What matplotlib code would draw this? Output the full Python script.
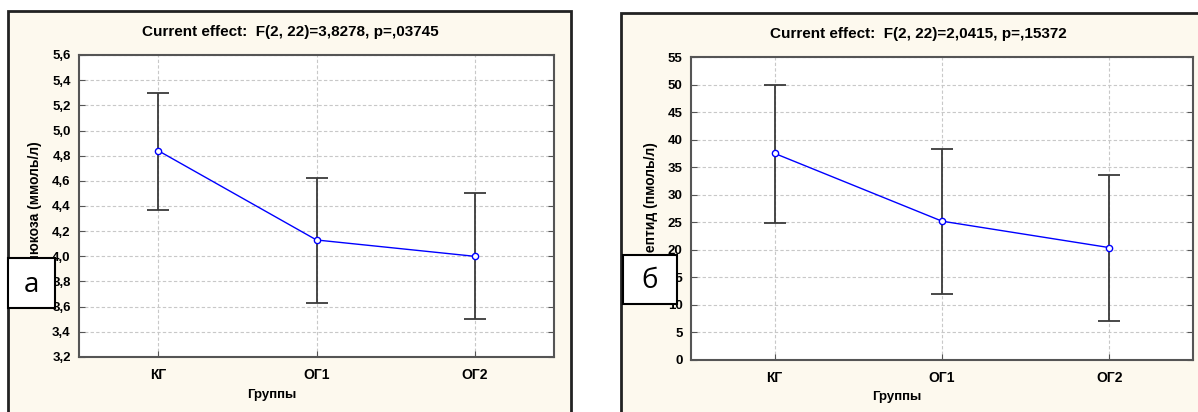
import matplotlib
matplotlib.use("Agg")
import matplotlib.pyplot as plt
from matplotlib.patches import Rectangle

plt.rcParams['font.family'] = ['Liberation Sans', 'DejaVu Sans']

groups = ["КГ", "ОГ1", "ОГ2"]

glu_mean = [4.84, 4.13, 4.00]
glu_upper = [5.30, 4.62, 4.50]
glu_lower = [4.37, 3.63, 3.50]

cpep_mean = [37.5, 25.2, 20.4]
cpep_upper = [49.9, 38.3, 33.5]
cpep_lower = [24.9, 11.9, 7.1]

titles = ["Current effect:  F(2, 22)=3,8278, p=,03745",
          "Current effect:  F(2, 22)=2,0415, p=,15372"]
ylabels = ["Глюкоза (ммоль/л)", "С-пептид (пмоль/л)"]
panel_letters = ["а", "б"]
xlabel = "Группы"

W, H = 1198, 412
fig = plt.figure(figsize=(W / 100, H / 100), dpi=100)
fig.patch.set_facecolor("white")

cream = "#fdf9ee"

def px_axes(x0, y0, x1, y1):
    return fig.add_axes([x0 / W, (H - y1) / H, (x1 - x0) / W, (y1 - y0) / H])

def frame(x0, y0, x1, y1):
    r = Rectangle((x0 / W, (H - y1) / H), (x1 - x0) / W, (y1 - y0) / H,
                  transform=fig.transFigure, facecolor=cream, edgecolor="#222222",
                  linewidth=2.0, zorder=-5)
    fig.patches.append(r)

frame(8, 11, 571, 420)
frame(621, 13, 1215, 420)

panels = [
    dict(pos=(79, 55, 554, 357), mean=glu_mean, up=glu_upper, lo=glu_lower,
         ylim=(3.2, 5.6), ticks=[3.2 + 0.2 * i for i in range(13)], fmt="f",
         title_xy=(290, 32), xlab_xy=(272, 395), box=(8, 258, 55, 308)),
    dict(pos=(691, 57, 1193, 360), mean=cpep_mean, up=cpep_upper, lo=cpep_lower,
         ylim=(0, 55), ticks=list(range(0, 56, 5)), fmt="d",
         title_xy=(918, 34), xlab_xy=(897, 397), box=(623, 255, 677, 304)),
]

for i, p in enumerate(panels):
    ax = px_axes(*p["pos"])
    ax.set_facecolor("white")
    x = list(range(len(groups)))
    m = p["mean"]
    yerr = [[m[k] - p["lo"][k] for k in x], [p["up"][k] - m[k] for k in x]]
    ax.errorbar(x, m, yerr=yerr, fmt="none", ecolor="#3a3a3a", elinewidth=1.3,
                capsize=8, capthick=1.3, zorder=3)
    ax.plot(x, m, color="#0000ff", linewidth=1.0, marker="o", markersize=4.5,
            markerfacecolor="white", markeredgecolor="#0000ff", markeredgewidth=1.0,
            zorder=4)
    ax.set_xlim(-0.5, 2.5)
    ax.set_ylim(*p["ylim"])
    ax.set_xticks(x)
    ax.set_xticklabels(groups, fontsize=10, fontweight="bold")
    ax.set_yticks(p["ticks"])
    if p["fmt"] == "d":
        ax.set_yticklabels([str(int(t)) for t in p["ticks"]], fontsize=9.5, fontweight="bold")
    else:
        ax.set_yticklabels([f"{t:.1f}".replace(".", ",") for t in p["ticks"]],
                           fontsize=9.5, fontweight="bold")
    ax.tick_params(axis="y", direction="in", left=True, right=True, length=4,
                   width=0.8, color="#555555", pad=6)
    ax.tick_params(axis="x", direction="in", bottom=True, top=False, length=4,
                   width=0.8, color="#555555", pad=8)
    ax.grid(True, linestyle=(0, (3, 2)), color="#c8c8c8", linewidth=0.8)
    ax.set_axisbelow(True)
    for s in ax.spines.values():
        s.set_color("#555555")
        s.set_linewidth(1.5)
    ax.set_ylabel(ylabels[i], fontsize=10, fontweight="bold", labelpad=7)
    tx, ty = p["title_xy"]
    fig.text(tx / W, (H - ty) / H, titles[i], ha="center", va="center",
             fontsize=11, fontweight="bold")
    lx, ly = p["xlab_xy"]
    fig.text(lx / W, (H - ly) / H, xlabel, ha="center", va="center",
             fontsize=9.5, fontweight="bold")
    bx0, by0, bx1, by1 = p["box"]
    rb = Rectangle((bx0 / W, (H - by1) / H), (bx1 - bx0) / W, (by1 - by0) / H,
                   transform=fig.transFigure, facecolor="white", edgecolor="black",
                   linewidth=1.5, zorder=10)
    fig.patches.append(rb)
    fig.text(((bx0 + bx1) / 2) / W, (H - (by0 + by1) / 2 - 2) / H, panel_letters[i],
             ha="center", va="center", fontsize=20, family=["Open Sans", "DejaVu Sans"],
             zorder=11)

fig.savefig("out.png", dpi=100)
